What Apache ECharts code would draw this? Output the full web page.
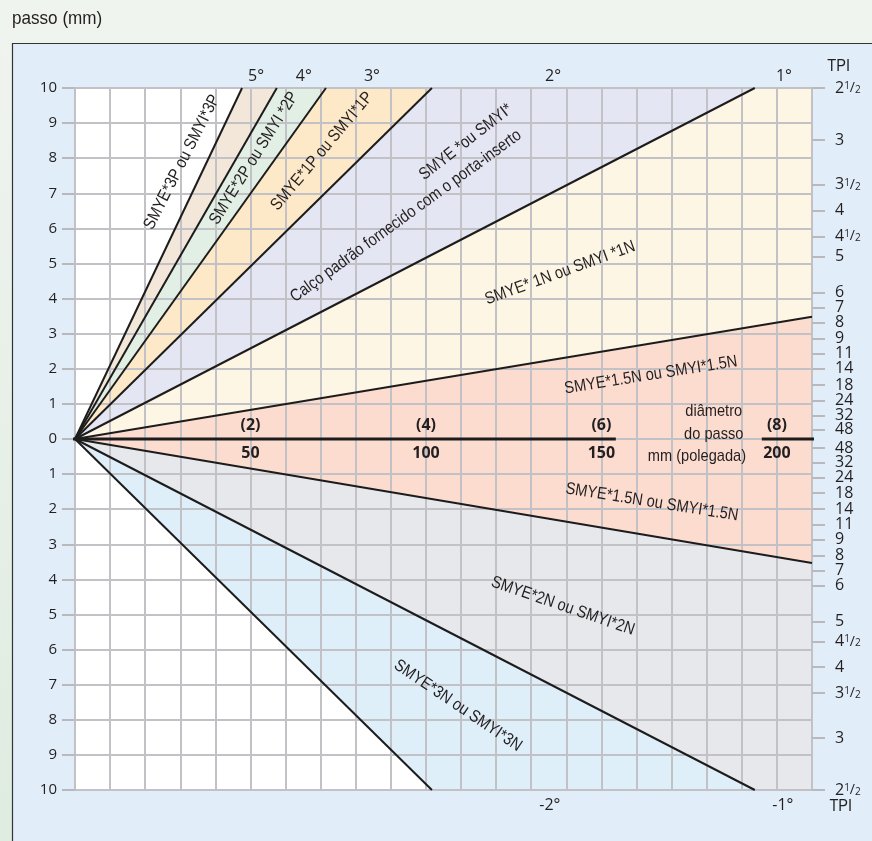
<!DOCTYPE html>
<html>
<head>
<meta charset="utf-8">
<script src="https://cdn.jsdelivr.net/npm/echarts@6/dist/echarts.min.js"></script>
<style>
  html, body { margin: 0; padding: 0; }
  #chart { width: 872px; height: 841px; }
</style>
</head>
<body>
<div id="chart"></div>
<script>
// Shim boundary rays: each runs from the origin to its end point (diameter mm, pitch mm)
const lineNames = ['3P', '2P', '1P', 'std', '1N', '1.5N+', '1.5N-', '2N', '3N'];
const lineEndDiameter = [47.6, 57.5, 71.5, 101.7, 193.7, 210, 210, 193.7, 101.7];
const lineEndPitch = [10, 10, 10, 10, 10, 3.48, -3.53, -10, -10];

// Pitch diameter marks on the zero line, mm and (inch)
const diameterMarks = [50, 100, 150, 200];
const inchMarks = ['(2)', '(4)', '(6)', '(8)'];

// Threads-per-inch scale on the right, with the pitch (mm) where each tick sits
const tpiLabels = ['2½', '3', '3½', '4', '4½', '5', '6', '7', '8', '9', '11', '14', '18', '24', '32', '48'];
const tpiPitch = [10, 8.52, 7.24, 6.5, 5.77, 5.2, 4.18, 3.75, 3.32, 2.87, 2.44, 2.0, 1.54, 1.1, 0.67, 0.26];

// Helix angle captions
const helixTop = ['5°', '4°', '3°', '2°', '1°'];
const helixBottom = ['-2°', '-1°'];

// Shim names written across their bands
const shimLabels = [
  'SMYE*3P ou SMYI*3P',
  'SMYE*2P ou SMYI *2P',
  'SMYE*1P ou SMYI*1P',
  'SMYE *ou SMYI*',
  'Calço padrão fornecido com o porta-inserto',
  'SMYE* 1N ou SMYI *1N',
  'SMYE*1.5N ou SMYI*1.5N',
  'SMYE*1.5N ou SMYI*1.5N',
  'SMYE*2N ou SMYI*2N',
  'SMYE*3N ou SMYI*3N'
];

// ---- layout / styling ----
const bandColors = ['#f3e7da', '#e1efe5', '#fde8c8', '#e5e6f3', '#fdf6e4', '#fcdccf', '#e6e8ec', '#dfeffa'];
const shimAnchor = [[30.5, 7.89], [51.0, 8.0], [70.4, 8.2], [111.4, 8.46], [94.3, 6.35], [138.2, 4.73], [164.1, 1.82], [164.4, -1.8], [139.0, -4.76], [109.1, -7.6]];
const shimAngle = [63, 58, 50, 38, 36, 20, 9, -9, -19, -34];
const helixTopAnchor = [[51.6, 10.34], [65.2, 10.34], [84.6, 10.34], [136.2, 10.34], [202, 10.34]];
const helixBottomAnchor = [[135.3, -10.43], [201.7, -10.43]];

const NARROW = "'Liberation Sans', Arial, sans-serif";
const SQUEEZE = 0.86;
const NUM = "'Open Sans', 'Noto Sans', sans-serif";
const INK = '#231f20';
const GRID = '#c2c2c6';
const XMAX = 210, YMAX = 10;

function perim(p) {
  if (p[1] >= YMAX - 1e-6) return p[0];
  if (p[0] >= XMAX - 1e-6) return XMAX + (YMAX - p[1]);
  return XMAX + 2 * YMAX + (XMAX - p[0]);
}
function bandPolygon(a, b) {
  const corners = [[XMAX, YMAX], [XMAX, -YMAX]];
  const ta = perim(a), tb = perim(b);
  const mid = corners.filter(c => { const t = perim(c); return t > ta && t < tb; });
  return [[0, 0], a].concat(mid, [b]);
}

const tpiRich = {
  n: { fontFamily: NUM, fontSize: 16, fill: INK, lineHeight: 14 },
  sl: { fontFamily: NUM, fontSize: 14, fill: INK, lineHeight: 14 },
  sup: { fontFamily: NUM, fontSize: 10, fill: INK, lineHeight: 10, verticalAlign: 'top' },
  sub: { fontFamily: NUM, fontSize: 10, fill: INK, lineHeight: 10, verticalAlign: 'bottom' }
};
function tpiRichText(s) {
  if (s.endsWith('½')) return '{n|' + s.slice(0, -1) + '}{sup|1}{sl|/}{sub|2}';
  return '{n|' + s + '}';
}

const bandSeries = {
  type: 'custom',
  z: 1,
  silent: true,
  data: bandColors.map((c, i) => [lineEndDiameter[i], lineEndPitch[i]]),
  renderItem(params, api) {
    const i = params.dataIndex;
    const a = [lineEndDiameter[i], lineEndPitch[i]];
    const b = [lineEndDiameter[i + 1], lineEndPitch[i + 1]];
    const pts = bandPolygon(a, b).map(p => api.coord(p));
    return { type: 'polygon', shape: { points: pts }, style: { fill: bandColors[i] } };
  }
};

const raySeries = lineNames.map((n, i) => ({
  type: 'line',
  name: n,
  z: 5,
  silent: true,
  showSymbol: false,
  data: [[0, 0], [lineEndDiameter[i], lineEndPitch[i]]],
  lineStyle: { color: '#1c1c1c', width: 2 }
}));

const zeroLine = [[[-3.1, 0], [154.1, 0]], [[195.7, 0], [213.7, 0]]].map(seg => ({
  type: 'line',
  z: 6,
  silent: true,
  clip: false,
  showSymbol: false,
  data: seg,
  lineStyle: { color: '#1c1c1c', width: 3 }
}));

// Text placed at a data point; the glyphs are narrowed inside a rotated group
function textSeries(items, anchors, angles, font, squeeze) {
  return {
    type: 'custom',
    z: 7,
    silent: true,
    clip: false,
    data: anchors,
    renderItem(params, api) {
      const i = params.dataIndex;
      const c = api.coord([api.value(0), api.value(1)]);
      return {
        type: 'group',
        x: c[0], y: c[1],
        rotation: (angles ? angles[i] : 0) * Math.PI / 180,
        children: [{
          type: 'text',
          scaleX: squeeze || 1,
          style: { text: items[i], font: font, fill: INK, align: 'center', verticalAlign: 'middle' }
        }]
      };
    }
  };
}

const diameterSeries = {
  type: 'custom',
  z: 7,
  silent: true,
  clip: false,
  data: diameterMarks.map(d => [d, 0]),
  renderItem(params, api) {
    const i = params.dataIndex;
    const c = api.coord([api.value(0), 0]);
    return {
      type: 'group',
      children: [
        { type: 'text', x: c[0], y: c[1] - 14, style: { text: inchMarks[i], font: 'bold 16px ' + NUM, fill: INK, align: 'center', verticalAlign: 'middle' } },
        { type: 'text', x: c[0], y: c[1] + 14, style: { text: String(diameterMarks[i]), font: 'bold 16px ' + NUM, fill: INK, align: 'center', verticalAlign: 'middle' } }
      ]
    };
  }
};

// TPI labels, mirrored above and below the zero line
const tpiSeries = {
  type: 'custom',
  z: 7,
  silent: true,
  clip: false,
  data: tpiPitch.map(p => [XMAX, p]).concat(tpiPitch.map(p => [XMAX, -p])),
  renderItem(params, api) {
    const i = params.dataIndex % tpiLabels.length;
    const c = api.coord([api.value(0), api.value(1)]);
    return {
      type: 'text',
      x: c[0] + 23, y: c[1],
      style: { text: tpiRichText(tpiLabels[i]), rich: tpiRich, fill: INK, align: 'left', verticalAlign: 'middle' }
    };
  }
};

const captionSeries = textSeries(
  ['diâmetro', 'do passo', 'mm (polegada)', 'TPI', 'TPI'],
  [[182, 0.8], [182, 0.14], [177.2, -0.48], [217.6, 10.62], [218.2, -10.47]],
  null, '17px ' + NARROW, SQUEEZE
);

const chart = echarts.init(document.getElementById('chart'), null, { renderer: 'canvas' });
chart.setOption({
  animation: false,
  backgroundColor: {
    type: 'linear', x: 0, y: 0, x2: 0, y2: 1,
    colorStops: [{ offset: 0, color: '#f0f4ef' }, { offset: 1, color: '#dfece0' }]
  },
  graphic: [
    { type: 'rect', z: -100, shape: { x: 12.5, y: 43.5, width: 870, height: 810 }, style: { fill: '#e1eef9', stroke: '#333', lineWidth: 1.2 } },
    { type: 'text', x: 12, y: 9, scaleX: 0.9, style: { text: 'passo (mm)', font: '19px ' + NARROW, fill: INK } }
  ],
  grid: { left: 75, top: 88, width: 737, height: 702, show: true, backgroundColor: '#ffffff', borderWidth: 0 },
  xAxis: {
    type: 'value', min: 0, max: XMAX, interval: 10, z: 3,
    axisLine: { show: false }, axisTick: { show: false }, axisLabel: { show: false },
    splitLine: { show: true, lineStyle: { color: GRID, width: 2 } }
  },
  yAxis: [
    {
      type: 'value', min: -YMAX, max: YMAX, interval: 1, z: 3,
      axisLine: { show: false },
      axisTick: { show: true, length: 13, lineStyle: { color: '#b9b9bd', width: 2 } },
      axisLabel: { formatter: v => String(Math.abs(v)), fontFamily: NUM, fontSize: 15, color: INK, margin: 18 },
      splitLine: { show: true, lineStyle: { color: GRID, width: 2 } }
    },
    {
      type: 'value', position: 'right', min: -YMAX, max: YMAX, z: 3,
      axisLine: { show: false },
      splitLine: { show: false },
      axisLabel: { show: false },
      axisTick: { show: true, length: 13, lineStyle: { color: '#b9b9bd', width: 2 }, customValues: tpiPitch.map(p => -p).reverse().concat(tpiPitch) }
    }
  ],
  series: [bandSeries]
    .concat(raySeries)
    .concat(zeroLine)
    .concat([
      diameterSeries,
      tpiSeries,
      textSeries(shimLabels, shimAnchor, shimAngle, '17px ' + NARROW, SQUEEZE),
      textSeries(helixTop, helixTopAnchor, null, '16px ' + NUM),
      textSeries(helixBottom, helixBottomAnchor, null, '16px ' + NUM),
      captionSeries
    ])
});
</script>
</body>
</html>
